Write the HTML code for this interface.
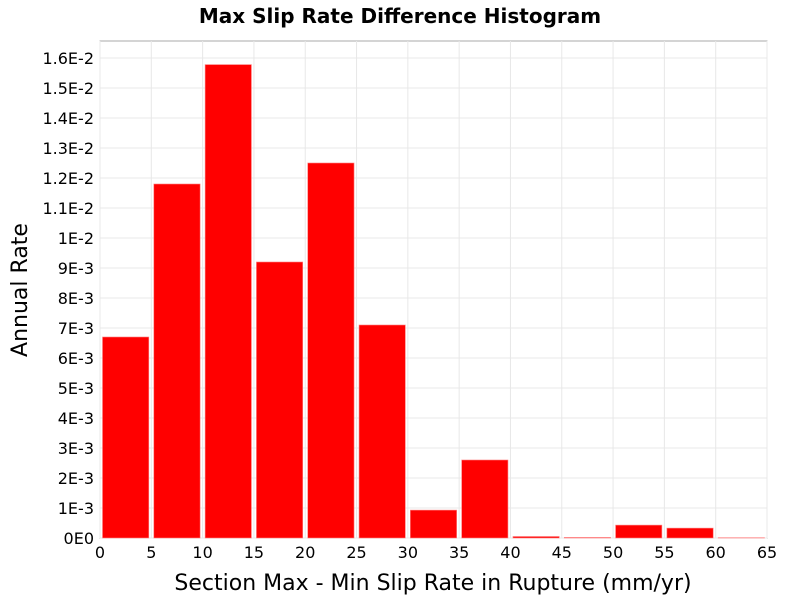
<!DOCTYPE html>
<html><head><meta charset="utf-8"><style>
body{margin:0;background:#fff;font-family:"Liberation Sans","DejaVu Sans",sans-serif}
</style></head><body>
<svg id="chart" width="800" height="600" xmlns="http://www.w3.org/2000/svg" font-family="DejaVu Sans, Liberation Sans, sans-serif">
<text x="400" y="23" text-anchor="middle" font-size="20" font-weight="bold">Max Slip Rate Difference Histogram</text>
<rect x="100" y="41" width="667" height="497" fill="#fff" stroke="#aaa"/>
<g id="grid"></g><g id="bars"></g><g id="axes"></g>
<text x="433" y="590" text-anchor="middle" font-size="22">Section Max - Min Slip Rate in Rupture (mm/yr)</text>
<text transform="translate(27,290) rotate(-90)" text-anchor="middle" font-size="22">Annual Rate</text>
</svg>
<script>
const binStarts=[0,5,10,15,20,25,30,35,40,45,50,55,60];
const rates=[6.7e-3,11.8e-3,15.78e-3,9.2e-3,12.5e-3,7.1e-3,0.93e-3,2.6e-3,0.05e-3,0.02e-3,0.43e-3,0.33e-3,0.01e-3];
const xTicks=[0,5,10,15,20,25,30,35,40,45,50,55,60,65];
const yTicks=[0,1e-3,2e-3,3e-3,4e-3,5e-3,6e-3,7e-3,8e-3,9e-3,1e-2,1.1e-2,1.2e-2,1.3e-2,1.4e-2,1.5e-2,1.6e-2];
const yLabels=["0E0","1E-3","2E-3","3E-3","4E-3","5E-3","6E-3","7E-3","8E-3","9E-3","1E-2","1.1E-2","1.2E-2","1.3E-2","1.4E-2","1.5E-2","1.6E-2"];
const binWidth=5;
const NS="http://www.w3.org/2000/svg";
const X=v=>100+v*(667/65);
const Y=v=>538-v*30000;
function mk(t,a,p){const e=document.createElementNS(NS,t);for(const k in a)e.setAttribute(k,a[k]);p.appendChild(e);return e;}
const grid=document.getElementById('grid'),bars=document.getElementById('bars'),axes=document.getElementById('axes');
xTicks.forEach(t=>{
  const l=mk('line',{x1:X(t),x2:X(t),y1:41,y2:538,stroke:'#e8e8e8'},grid);
  
  
  const tx=mk('text',{x:X(t),y:558,'text-anchor':'middle','font-size':16},axes);
  tx.textContent=t;
  
  
});
yTicks.forEach((t,i)=>{
  const l=mk('line',{x1:100,x2:767,y1:Y(t),y2:Y(t),stroke:'#e8e8e8'},grid);
  
  
  const tx=mk('text',{x:94,y:Y(t)+6,'text-anchor':'end','font-size':16},axes);
  tx.textContent=yLabels[i];
  
  
});
binStarts.forEach((b,i)=>{
  const x0=X(b)+2.5,x1=X(b+binWidth)-2.5,y=Y(rates[i]);
  const r=mk('rect',{x:x0,y:y,width:x1-x0,height:538-y,fill:'#ff0000',stroke:'#ff8080','stroke-width':0.6},bars);
  
  
});
</script>
</body></html>
